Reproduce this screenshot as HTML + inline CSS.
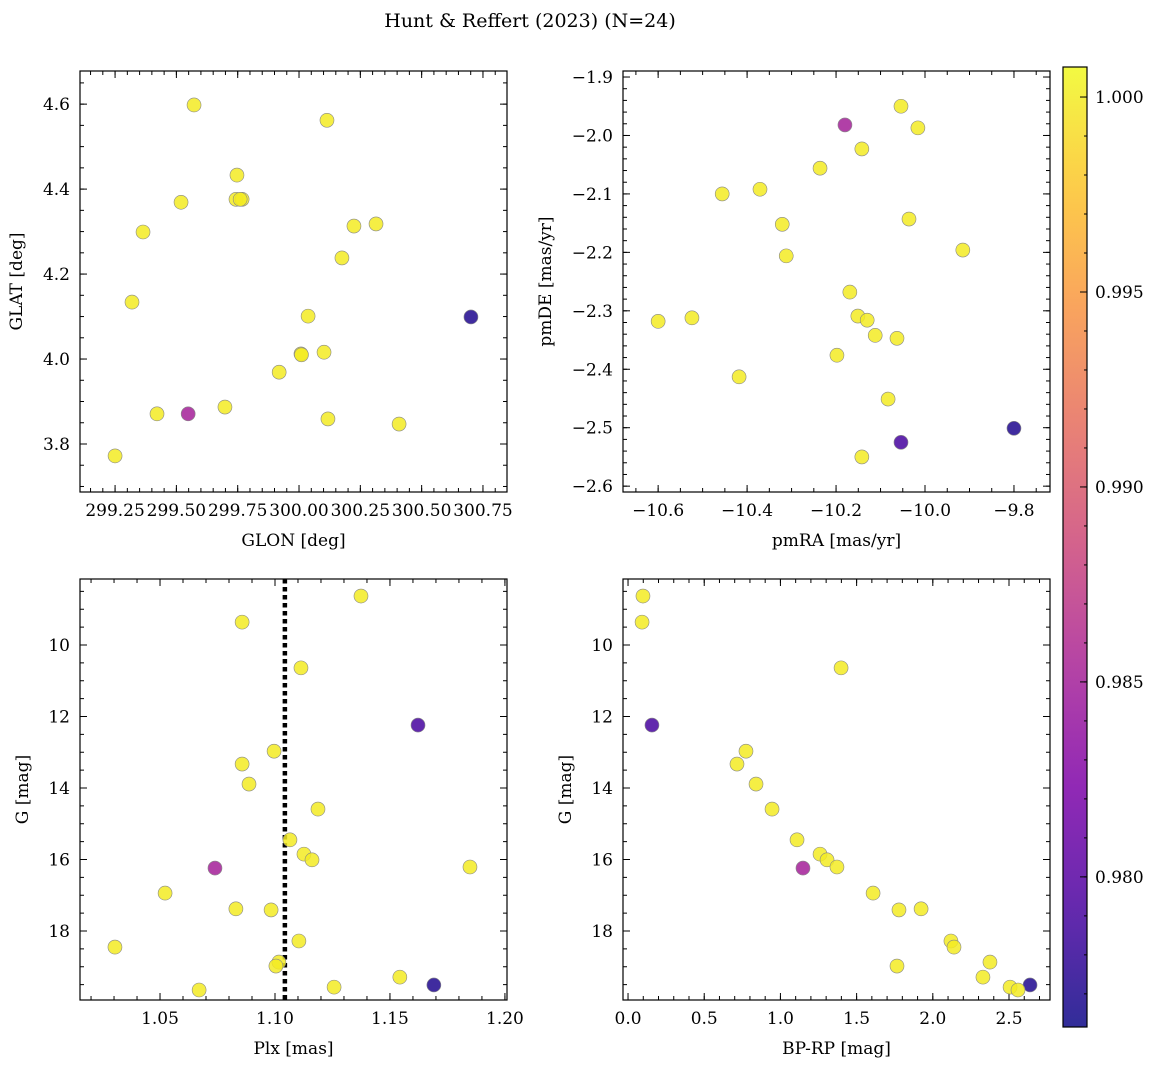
<!DOCTYPE html>
<html><head><meta charset="utf-8"><style>
html,body{margin:0;padding:0;background:#fff;}
svg{display:block;font-family:"DejaVu Serif","Liberation Serif",serif;}
</style></head><body>
<svg id="fig" width="1161" height="1067" viewBox="0 0 1161 1067" xmlns="http://www.w3.org/2000/svg">
<defs><linearGradient id="cbgrad" x1="0" y1="1" x2="0" y2="0"></linearGradient></defs>
<text x="530" y="27" font-size="19" text-anchor="middle">Hunt &amp; Reffert (2023) (N=24)</text>
</svg>
<script>
// ---- data ----
const tlGlon = [299.572,300.114,299.747,299.519,299.743,299.768,299.364,300.224,300.314,300.175,299.319,300.701,300.037,300.008,300.010,300.102,299.919,299.698,299.421,299.548,300.118,300.408,299.250,299.760];
const tlGlat = [4.598,4.562,4.433,4.369,4.376,4.376,4.299,4.313,4.318,4.238,4.134,4.099,4.101,4.012,4.010,4.016,3.969,3.887,3.871,3.871,3.859,3.847,3.772,4.376];
const tlProb = [1,1,1,1,1,1,1,1,1,1,1,0.977,1,1,1,1,1,1,1,0.985,1,1,1,1];
const trPmra = [-10.054,-10.180,-10.016,-10.142,-10.236,-10.456,-10.371,-10.036,-10.321,-10.312,-9.915,-10.169,-10.600,-10.524,-10.151,-10.130,-10.112,-10.063,-10.198,-10.418,-10.083,-9.800,-10.054,-10.142];
const trPmde = [-1.950,-1.982,-1.987,-2.023,-2.056,-2.100,-2.092,-2.143,-2.152,-2.206,-2.196,-2.268,-2.318,-2.312,-2.309,-2.316,-2.342,-2.347,-2.376,-2.413,-2.451,-2.501,-2.525,-2.550];
const trProb = [1,0.985,1,1,1,1,1,1,1,1,1,1,1,1,1,1,1,1,1,1,1,0.977,0.979,1];
const blPlx = [1.1374,1.0857,1.1113,1.1622,1.0996,1.0857,1.0887,1.1187,1.1065,1.1126,1.1161,1.0739,1.1848,1.0522,1.0830,1.0983,1.1104,1.0304,1.1017,1.1004,1.1543,1.1691,1.1257,1.0670];
const gMag = [8.63,9.36,10.64,12.24,12.97,13.33,13.89,14.59,15.45,15.85,16.01,16.24,16.21,16.94,17.38,17.41,18.28,18.45,18.87,18.98,19.29,19.51,19.57,19.65];
const blProb = [1,1,1,0.979,1,1,1,1,1,1,1,0.985,1,1,1,1,1,1,1,1,1,0.977,1,1];
const brBprp = [0.098,0.092,1.398,0.157,0.774,0.715,0.840,0.945,1.109,1.260,1.306,1.148,1.371,1.608,1.923,1.778,2.119,2.139,2.375,1.765,2.329,2.638,2.507,2.559];
const brG = [8.63,9.36,10.64,12.24,12.97,13.33,13.89,14.59,15.45,15.85,16.01,16.24,16.21,16.94,17.38,17.41,18.28,18.45,18.87,18.98,19.29,19.51,19.57,19.65];
const brProb = blProb;
const meanPlx = [1.1043];
const cbTicks = [0.980,0.985,0.990,0.995,1.000];

const NS="http://www.w3.org/2000/svg";
const svg=document.getElementById('fig');
function mk(tag,attrs,parent){const e=document.createElementNS(NS,tag);for(const k in attrs)e.setAttribute(k,attrs[k]);(parent||svg).appendChild(e);return e;}
const plasma=[[13,8,135],[75,3,161],[125,3,168],[168,34,150],[203,70,121],[229,107,93],[248,148,65],[253,195,40],[240,249,33]];
const cmin=0.97615,cmax=1.00077;
function cmap(v){let t=(v-cmin)/(cmax-cmin);t=Math.max(0,Math.min(1,t))*(plasma.length-1);const i=Math.min(Math.floor(t),plasma.length-2),f=t-i;const c=plasma[i].map((a,j)=>Math.round(a+(plasma[i+1][j]-a)*f));return `rgb(${c[0]},${c[1]},${c[2]})`;}
function fmt(v,d){let s=v.toFixed(d);if(v<0&&parseFloat(s)!==0)s='\u2212'+s.slice(1);return s;}

function panel(o){
  const g=mk('g',{});
  
  
  const {x0,x1,y0,y1}=o.box;
  const sx=v=>x0+(v-o.xr[0])/(o.xr[1]-o.xr[0])*(x1-x0);
  const sy=o.invert? v=>y0+(v-o.yr[0])/(o.yr[1]-o.yr[0])*(y1-y0) : v=>y1-(v-o.yr[0])/(o.yr[1]-o.yr[0])*(y1-y0);
  // ticks
  const tk=(axis,step,len,labels,dec)=>{
    const r=axis==='x'?o.xr:o.yr;
    const lo=Math.min(r[0],r[1]),hi=Math.max(r[0],r[1]);
    for(let k=Math.ceil(lo/step-1e-6);k*step<=hi+1e-9;k++){
      const v=k*step;
      if(axis==='x'){const p=sx(v);
        mk('line',{x1:p,x2:p,y1:y1,y2:y1-len,stroke:'#000','stroke-width':1},g);
        mk('line',{x1:p,x2:p,y1:y0,y2:y0+len,stroke:'#000','stroke-width':1},g);
        if(labels){const t=mk('text',{x:p,y:y1+24,'font-size':17,'text-anchor':'middle'},g);t.textContent=fmt(v,dec);}
      }else{const p=sy(v);
        mk('line',{x1:x0,x2:x0+len,y1:p,y2:p,stroke:'#000','stroke-width':1},g);
        mk('line',{x1:x1,x2:x1-len,y1:p,y2:p,stroke:'#000','stroke-width':1},g);
        if(labels){const t=mk('text',{x:x0-10,y:p+6,'font-size':17,'text-anchor':'end'},g);t.textContent=fmt(v,dec);}
      }
    }
  };
  tk('x',o.xmaj,7,true,o.xdec);tk('x',o.xmin,4,false);
  tk('y',o.ymaj,7,true,o.ydec);tk('y',o.ymin,4,false);
  const clip='clip_'+o.name;
  const cp=mk('clipPath',{id:clip},g);mk('rect',{x:x0,y:y0,width:x1-x0,height:y1-y0},cp);
  const pg=mk('g',{'clip-path':`url(#${clip})`},g);
  if(o.vline){o.vline.forEach(v=>{const l=mk('line',{x1:sx(v),x2:sx(v),y1:y0,y2:y1,stroke:'#000','stroke-width':4.5,'stroke-dasharray':'4.5,3.5'},pg);});}
  for(let i=0;i<o.xs.length;i++){
    const c=mk('circle',{cx:sx(o.xs[i]),cy:sy(o.ys[i]),r:7,fill:cmap(o.ps[i]),'fill-opacity':0.85,stroke:'#888','stroke-width':0.6},pg);
    
    
  }
  mk('rect',{x:x0,y:y0,width:x1-x0,height:y1-y0,fill:'none',stroke:'#000','stroke-width':1.2},g);
  const xl=mk('text',{x:(x0+x1)/2,y:y1+54,'font-size':17,'text-anchor':'middle'},g);xl.textContent=o.xlabel;
  
  const yc=(y0+y1)/2, yx=x0-o.ylabOff;
  const yl=mk('text',{x:yx,y:yc,'font-size':17,'text-anchor':'middle',transform:`rotate(-90 ${yx} ${yc})`},g);yl.textContent=o.ylabel;
  
}
panel({name:'glon-glat-panel',box:{x0:80,x1:507,y0:71,y1:492},xr:[299.107,300.848],yr:[3.687,4.678],xmaj:0.25,xmin:0.05,ymaj:0.2,ymin:0.05,xdec:2,ydec:1,xs:tlGlon,ys:tlGlat,ps:tlProb,xlabel:'GLON [deg]',ylabel:'GLAT [deg]',ylabOff:58});
panel({name:'proper-motion-panel',box:{x0:623,x1:1050,y0:71,y1:492},xr:[-10.679,-9.719],yr:[-2.610,-1.8897],xmaj:0.2,xmin:0.05,ymaj:0.1,ymin:0.02,xdec:1,ydec:1,xs:trPmra,ys:trPmde,ps:trProb,xlabel:'pmRA [mas/yr]',ylabel:'pmDE [mas/yr]',ylabOff:72});
panel({name:'parallax-mag-panel',box:{x0:80,x1:507,y0:579,y1:1000},xr:[1.0152,1.2009],yr:[8.154,19.93],invert:true,xmaj:0.05,xmin:0.01,ymaj:2,ymin:0.5,xdec:2,ydec:0,xs:blPlx,ys:gMag,ps:blProb,vline:meanPlx,xlabel:'Plx [mas]',ylabel:'G [mag]',ylabOff:52});
panel({name:'cmd-panel',box:{x0:623,x1:1050,y0:579,y1:1000},xr:[-0.033,2.769],yr:[8.154,19.93],invert:true,xmaj:0.5,xmin:0.1,ymaj:2,ymin:0.5,xdec:1,ydec:0,xs:brBprp,ys:brG,ps:brProb,xlabel:'BP-RP [mag]',ylabel:'G [mag]',ylabOff:52});

// colorbar
const grad=document.getElementById('cbgrad');
for(let i=0;i<=20;i++){const v=cmin+(cmax-cmin)*i/20;mk('stop',{offset:(i/20),'stop-color':cmap(v),'stop-opacity':0.85},grad);}
const cb=mk('g',{});


const cy0=67,cy1=1027,cx0=1063,cx1=1087;
mk('rect',{x:cx0,y:cy0,width:cx1-cx0,height:cy1-cy0,fill:'url(#cbgrad)',stroke:'#000','stroke-width':1.2},cb);
const cby=v=>cy1-(v-cmin)/(cmax-cmin)*(cy1-cy0);
for(let k=Math.ceil(cmin/0.001);k*0.001<=cmax+1e-9;k++){const p=cby(k*0.001);mk('line',{x1:cx1,x2:cx1-3,y1:p,y2:p,stroke:'#000','stroke-width':1},cb);}
cbTicks.forEach(v=>{const p=cby(v);mk('line',{x1:cx1,x2:cx1-7,y1:p,y2:p,stroke:'#000','stroke-width':1},cb);
  const t=mk('text',{x:cx1+8,y:p+6,'font-size':17},cb);t.textContent=v.toFixed(3);
  });
</script>
</body></html>
